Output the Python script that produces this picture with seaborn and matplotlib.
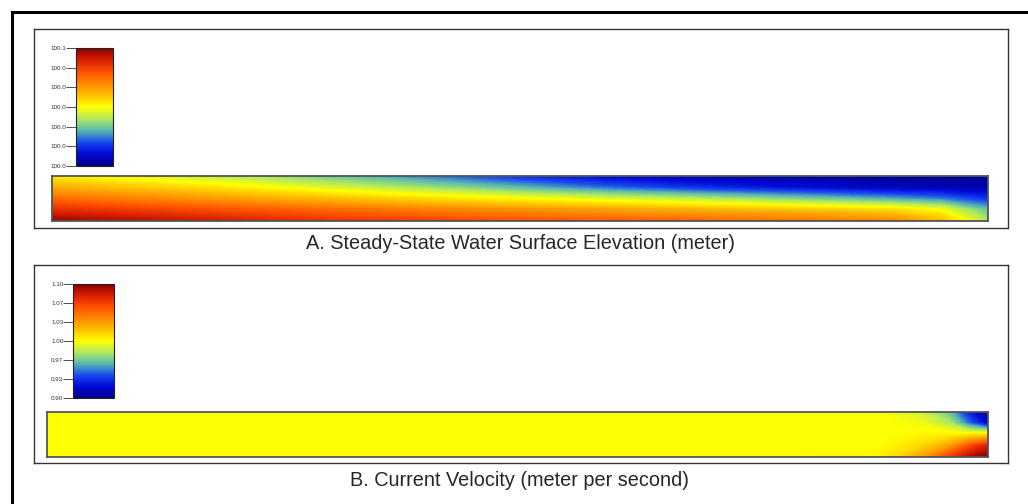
import numpy as np
import matplotlib
matplotlib.use("Agg")
import matplotlib.pyplot as plt
import matplotlib.patches as patches
import seaborn as sns

sns.set_style("white")
plt.rcParams['font.family'] = ['Liberation Sans', 'DejaVu Sans']

# colour scale, low -> high (even steps)
scale_colors = ['#000088', '#0008d8', '#1848f0', '#58b8b0', '#b0e860', '#ffff00',
                '#ffc000', '#ff8800', '#ff5000', '#d82000', '#880000']

# A: water surface elevation (m), rows top -> bottom, columns along channel
elev_x = [0.0, 0.1, 0.2, 0.3, 0.4, 0.5, 0.6, 0.7, 0.8, 0.9, 0.95, 1.0]
elev_y = [0.0, 0.25, 0.5, 0.75, 1.0]
elev_rows = [
    [100.052, 100.046, 100.040, 100.032, 100.024, 100.015, 100.008, 100.004, 100.003, 100.002, 100.002, 100.002],
    [100.063, 100.058, 100.052, 100.045, 100.038, 100.030, 100.022, 100.015, 100.010, 100.006, 100.005, 100.004],
    [100.075, 100.070, 100.065, 100.060, 100.055, 100.050, 100.045, 100.040, 100.034, 100.028, 100.024, 100.016],
    [100.087, 100.083, 100.079, 100.075, 100.071, 100.068, 100.065, 100.062, 100.059, 100.055, 100.049, 100.032],
    [100.098, 100.094, 100.090, 100.086, 100.083, 100.080, 100.078, 100.076, 100.074, 100.070, 100.062, 100.040],
]
elev_min, elev_max = 100.0, 100.1
elev_ticks = ['100.0', '100.0', '100.0', '100.0', '100.0', '100.0', '100.1']

# B: current velocity (m/s)
vel_x = [0.0, 0.5, 0.88, 0.9, 0.93, 0.96, 0.98, 1.0]
vel_y = [0.0, 0.25, 0.5, 0.75, 1.0]
vel_rows = [
    [1.000, 1.000, 1.000, 0.995, 0.988, 0.962, 0.926, 0.902],
    [1.000, 1.000, 1.000, 1.000, 0.996, 0.980, 0.946, 0.916],
    [1.000, 1.000, 1.000, 1.000, 1.002, 1.004, 1.006, 1.010],
    [1.000, 1.000, 1.000, 1.004, 1.012, 1.032, 1.060, 1.080],
    [1.000, 1.000, 1.002, 1.010, 1.030, 1.068, 1.090, 1.100],
]
vel_min, vel_max = 0.90, 1.10
vel_ticks = ['0.90', '0.93', '0.97', '1.00', '1.03', '1.07', '1.10']

titles = ['A. Steady-State Water Surface Elevation (meter)',
          'B. Current Velocity (meter per second)']

W, H = 1028, 504
cmap = sns.blend_palette(scale_colors, n_colors=256, as_cmap=True)

fig = plt.figure(figsize=(W / 100, H / 100), dpi=100)


def add_ax(x0, y0, x1, y1):
    return fig.add_axes([x0 / W, 1 - y1 / H, (x1 - x0) / W, (y1 - y0) / H])


# outer frame (runs off the right/bottom edge)
fig.patches.append(patches.Rectangle((12 / W, -0.1), 1.2, 1 - 12 / H + 0.1,
                                     transform=fig.transFigure, fill=False,
                                     edgecolor='black', linewidth=2.2))


def panel(box, field, cbar, xs, ys, rows, vmin, vmax, ticklabels, title, ty):
    pb = add_ax(*box)
    pb.set_xticks([])
    pb.set_yticks([])
    for s in pb.spines.values():
        s.set_color('#333333')
        s.set_linewidth(1.0)

    ax = add_ax(*field)
    Z = np.array(rows)
    ax.contourf(xs, ys, Z, levels=np.linspace(vmin, vmax, 200), cmap=cmap,
                vmin=vmin, vmax=vmax, extend='both')
    ax.set_xlim(0, 1)
    ax.set_ylim(1, 0)
    ax.set_xticks([])
    ax.set_yticks([])
    for s in ax.spines.values():
        s.set_color('#555555')
        s.set_linewidth(1.3)

    cax = add_ax(*cbar)
    sm = plt.cm.ScalarMappable(cmap=cmap, norm=plt.Normalize(vmin, vmax))
    cb = fig.colorbar(sm, cax=cax)
    cb.outline.set_edgecolor('#222222')
    cb.outline.set_linewidth(0.8)
    cax.yaxis.set_ticks_position('left')
    cb.set_ticks(np.linspace(vmin, vmax, len(ticklabels)))
    cb.set_ticklabels(ticklabels)
    cax.tick_params(axis='y', length=7, width=0.6, pad=0, labelsize=4.5,
                    colors='#333333')

    fig.text(520 / W, 1 - ty / H, title, ha='center', va='center', fontsize=14.3)


panel((34, 29, 1008, 228), (52, 176, 988, 221), (76, 48, 113, 166),
      elev_x, elev_y, elev_rows, elev_min, elev_max, elev_ticks, titles[0], 243)
panel((34, 265, 1008, 463), (47, 412, 988, 457), (73, 284, 114, 398),
      vel_x, vel_y, vel_rows, vel_min, vel_max, vel_ticks, titles[1], 481)

fig.savefig('out.png', dpi=100)
